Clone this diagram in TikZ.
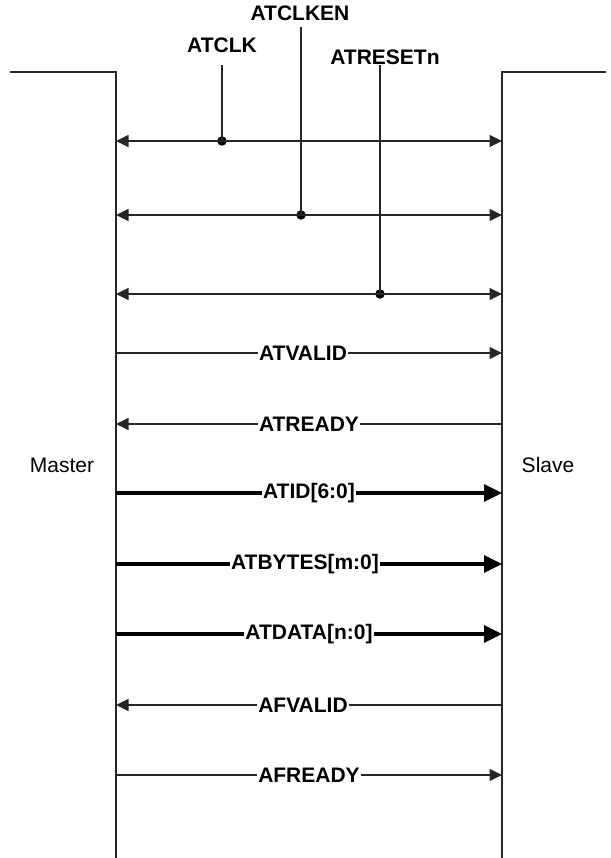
\documentclass[tikz,border=0pt]{standalone}
\usepackage{fontspec}
\setmainfont{Liberation Sans}
\usetikzlibrary{arrows.meta}
\begin{document}
\begin{tikzpicture}[x=1pt,y=-1pt,
  wire/.style={draw=black!85,line width=1.3pt},
  sig/.style={wire,-{Triangle[length=12.5pt,width=12pt]}},
  both/.style={wire,{Triangle[length=12.5pt,width=12pt]}-{Triangle[length=12.5pt,width=12pt]}},
  bus/.style={draw=black,line width=3.2pt,-{Triangle[length=18pt,width=17pt]}},
  lbl/.style={fill=white,inner sep=1.2pt,font=\fontsize{21}{24}\selectfont\bfseries},
  side/.style={font=\fontsize{21}{24}\selectfont},
  dot/.style={circle,fill=black,inner sep=0pt,minimum size=9.5pt}]
\useasboundingbox (0,0) rectangle (610,858);
% side walls
\coordinate (mt) at (10,72);
\coordinate (mc) at (116,72);
\coordinate (mb) at (116,858);
\coordinate (st) at (606,72);
\coordinate (sc) at (502,72);
\coordinate (sb) at (502,858);
\draw[wire] (mt) -- (mc) -- (mb);
\draw[wire] (st) -- (sc) -- (sb);
\node[side] (master) at (62,465) {Master};
\node[side] (slave) at (548,465) {Slave};
% signal rows
\foreach \n/\y in {1/141,2/215,3/294,4/353,5/424,6/493,7/564,8/634,9/705,10/775}{
  \coordinate (L\n) at (116,\y);
  \coordinate (R\n) at (502,\y);
}
\node[lbl] (clk) at (222,45) {ATCLK};
\node[lbl] (clken) at (300,13) {ATCLKEN};
\node[lbl] (rst) at (385,57) {ATRESETn};
\coordinate (clkt) at (222,65);
\coordinate (clkent) at (301,27);
\coordinate (rstt) at (380,65);
\node[dot] (d1) at (222,141) {};
\node[dot] (d2) at (301,215) {};
\node[dot] (d3) at (380,294) {};
\draw[both] (L1) -- (R1);
\draw[both] (L2) -- (R2);
\draw[both] (L3) -- (R3);
\draw[wire] (clkt) -- (d1.center);
\draw[wire] (clkent) -- (d2.center);
\draw[wire] (rstt) -- (d3.center);
% handshake and data signals
\draw[sig] (L4) -- node[lbl,xshift=-6pt] (atvalid) {ATVALID} (R4);
\draw[sig] (R5) -- node[lbl] (atready) {ATREADY} (L5);
\draw[bus] (L6) -- node[lbl] (atid) {ATID[6:0]} (R6);
\draw[bus] (L7) -- node[lbl,xshift=-4pt] (atbytes) {ATBYTES[m:0]} (R7);
\draw[bus] (L8) -- node[lbl] (atdata) {ATDATA[n:0]} (R8);
\draw[sig] (R9) -- node[lbl,xshift=-6pt] (afvalid) {AFVALID} (L9);
\draw[sig] (L10) -- node[lbl] (afready) {AFREADY} (R10);
\end{tikzpicture}
\end{document}
